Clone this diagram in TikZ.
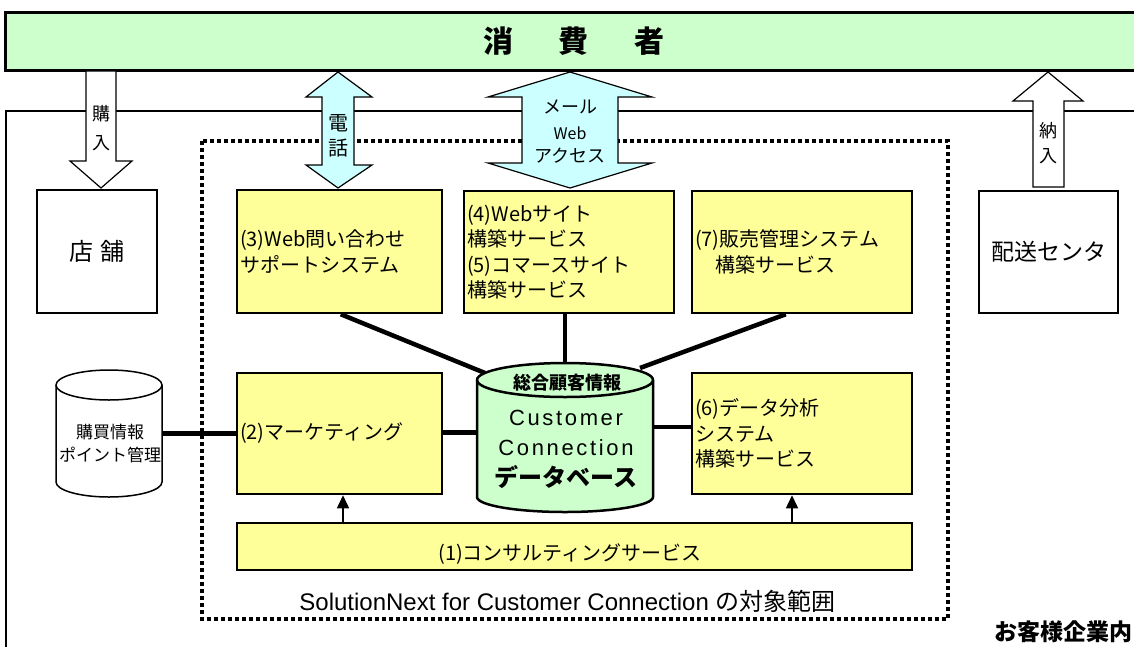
\documentclass[tikz,border=0pt]{standalone}
\usepackage{fontspec}
\setmainfont{Noto Sans CJK JP}
\newfontfamily\latfont{Liberation Sans}
\newfontfamily\latspaced[LetterSpace=12]{Liberation Sans}
\usetikzlibrary{arrows.meta,calc}
\definecolor{boxyellow}{HTML}{FFFF99}
\definecolor{lightgreen}{HTML}{CCFFCC}
\definecolor{lightcyan}{HTML}{CCFFFF}
\tikzset{
  ybox/.style={draw, line width=2.5pt, fill=boxyellow, inner xsep=3pt, inner ysep=0pt,
    font=\fontsize{20}{25.5}\selectfont, align=left},
  wbox/.style={draw, line width=2.5pt, fill=white, inner sep=0pt},
  conn/.style={line width=4.5pt},
  uparrow/.style={line width=1.5pt, -{Triangle[width=12pt,length=13pt]}},
  barrow/.style={draw, line width=1.2pt, line join=miter},
  frameline/.style={line width=1.5pt},
  scopeframe/.style={line width=4pt, dash pattern=on 4pt off 3pt},
  lbl/.style={inner sep=0pt, align=center},
}
\begin{document}
\begin{tikzpicture}[x=1pt,y=-1pt]
\useasboundingbox (0,0) rectangle (1134,646);
% enterprise frame
\draw[frameline] (6,660) -- (6,111) -- (1150,111);
% scope frame
\draw[scopeframe] (202,141) rectangle (948,619);
% banner
\node[draw, line width=3pt, fill=lightgreen, minimum width=1150, minimum height=58, anchor=north west, inner sep=0pt] (banner) at (4,11) {};
\node[lbl, font=\bfseries\fontsize{30}{30}\selectfont] (bannertext) at (574,41) {消\hspace{46pt}費\hspace{46pt}者};

% boxes
\node[ybox, minimum width=205, minimum height=123, text width=199] (c3) at (339.5,251.5) {(3)Web問い合わせ\\サポートシステム};
\node[ybox, minimum width=210, minimum height=122, text width=204] (c45) at (569,252) {(4)Webサイト\\構築サービス\\(5)コマースサイト\\構築サービス};
\node[ybox, minimum width=220, minimum height=122, text width=214] (c7) at (802,252) {(7)販売管理システム\\　構築サービス};
\node[ybox, minimum width=205, minimum height=121, text width=199] (c2) at (339.5,433.5) {(2)マーケティング};
\node[ybox, minimum width=220, minimum height=121, text width=214] (c6) at (802,433.5) {(6)データ分析\\システム\\構築サービス};
\node[ybox, minimum width=675, minimum height=47] (c1) at (574.5,546.5) {};
\node[lbl, font=\fontsize{20}{20}\selectfont] (c1text) at (570,554) {(1)コンサルティングサービス};
\node[wbox, minimum width=120, minimum height=123, font=\fontsize{24}{24}\selectfont] (store) at (97,251.5) {店\hspace{8pt}舗};
\node[wbox, minimum width=139, minimum height=122, font=\fontsize{23}{23}\selectfont] (dc) at (1048.5,252) {配送センタ};

% database node
\node[minimum width=176, minimum height=150, inner sep=0pt] (db) at (565,437) {};
\coordinate (dbl) at (485,373);
\coordinate (dbr) at (640,368);
% purchase DB node
\node[minimum width=106, minimum height=127, inner sep=0pt] (pc) at (109,433.5) {};

% connectors
\draw[conn] ([xshift=105]c3.south west) -- (dbl);
\draw[conn] (db.north |- c45.south) -- (db.north);
\draw[conn] ([xshift=95]c7.south west) -- (dbr);
\draw[conn, line width=5pt] (pc.east) -- (c2.west);
\draw[conn, line width=5pt] ([yshift=1.5]c2.east) -- ([yshift=1.5]c2.east -| db.west);
\draw[conn, line width=4pt] ([yshift=6.5]c6.west -| db.east) -- ([yshift=6.5]c6.west);
\draw[uparrow] ([xshift=3.5]c2.south |- c1.north) -- ([xshift=3.5]c2.south);
\draw[uparrow] ([xshift=-10]c6.south |- c1.north) -- ([xshift=-10]c6.south);

% database cylinder
\draw[line width=2.5pt, fill=lightgreen] (477,380) -- (477,497) arc[start angle=180,end angle=0,x radius=88,y radius=15] -- (653,380) arc[start angle=0,end angle=-180,x radius=88,y radius=17] -- cycle;
\draw[line width=2.5pt] (477,380) arc[start angle=180,end angle=0,x radius=88,y radius=17];
\node[lbl, font=\bfseries\fontsize{18}{18}\selectfont] (dbt1) at (567,383) {総合顧客情報};
\node[lbl, font=\latspaced\fontsize{22}{22}\selectfont] (dbt2) at (566,418) {Customer};
\node[lbl, font=\latspaced\fontsize{22}{22}\selectfont] (dbt3) at (566,448) {Connection};
\node[lbl, font=\bfseries\fontsize{24}{24}\selectfont] (dbt4) at (566,477) {データベース};

% purchase cylinder
\draw[line width=1.5pt, fill=white] (56,385) -- (56,482) arc[start angle=180,end angle=0,x radius=53,y radius=15] -- (162,385) arc[start angle=0,end angle=-180,x radius=53,y radius=15] -- cycle;
\draw[line width=1.5pt] (56,385) arc[start angle=180,end angle=0,x radius=53,y radius=15];
\node[lbl, font=\fontsize{17}{23}\selectfont] (pct) at (110,443.5) {購買情報\\ポイント管理};

% block arrows
\draw[barrow, fill=white] (86,71) -- (116,71) -- (116,161) -- (132,161) -- (101,188) -- (70,161) -- (86,161) -- cycle;
\node[lbl, font=\fontsize{18}{29}\selectfont] (buy) at (101,128) {購\\入};
\draw[barrow, fill=lightcyan] (338,72) -- (372,97) -- (354,97) -- (354,165) -- (372,165) -- (338,188) -- (306,165) -- (322,165) -- (322,97) -- (306,97) -- cycle;
\node[lbl, font=\fontsize{20}{25}\selectfont] (tel) at (338,136) {電\\話};
\draw[barrow, fill=lightcyan] (570,72) -- (652,97) -- (618,97) -- (618,163) -- (652,163) -- (570,188) -- (488,163) -- (522,163) -- (522,97) -- (488,97) -- cycle;
\node[lbl, font=\fontsize{18}{18}\selectfont] (mail) at (570,107) {メール};
\node[lbl, font=\fontsize{16}{16}\selectfont] (web) at (570,133) {Web};
\node[lbl, font=\fontsize{18}{18}\selectfont] (access) at (570,156) {アクセス};
\draw[barrow, fill=white] (1048,72) -- (1083,101) -- (1064,101) -- (1064,187) -- (1033,187) -- (1033,101) -- (1013,101) -- cycle;
\node[lbl, font=\fontsize{18}{25}\selectfont] (deliver) at (1048,143) {納\\入};

% texts
\node[lbl, font=\fontsize{24}{24}\selectfont] (scope) at (567.5,601) {{\latfont SolutionNext for Customer Connection }の対象範囲};
\node[lbl, anchor=east, font=\bfseries\fontsize{23}{23}\selectfont] (inside) at (1133,632) {お客様企業内};
\end{tikzpicture}
\end{document}
